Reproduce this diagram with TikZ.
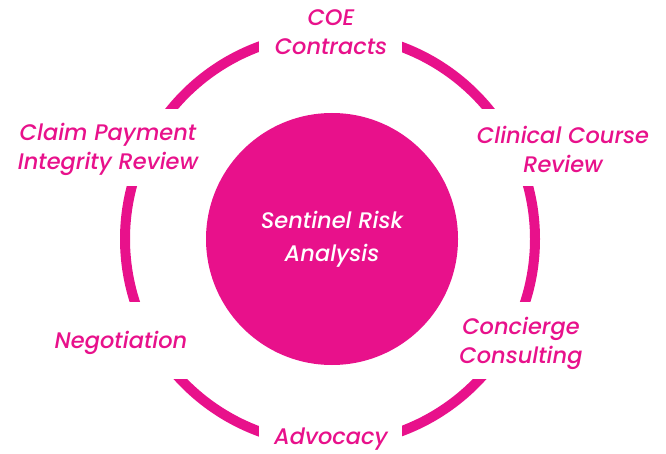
\documentclass[tikz,border=0pt]{standalone}
\usepackage{fontspec}
\setmainfont{Poppins}[ItalicFont={Poppins Medium Italic}]
\usetikzlibrary{positioning}
\definecolor{sentpink}{HTML}{E8118B}

\begin{document}
\begin{tikzpicture}[x=1pt,y=-1pt,
	ring/.style={draw=sentpink,line width=10pt},
	gap/.style={fill=white},
	hub/.style={circle,fill=sentpink,minimum size=252pt,inner sep=0pt,
		text=white,align=center,font=\fontsize{22.5}{33}\selectfont\itshape},
	item/.style={text=sentpink,align=center,inner sep=0pt,
		font=\fontsize{22.5}{29}\selectfont\itshape}]
\useasboundingbox (0,0) rectangle (666,454);
%outer ring
\coordinate (c) at (330,239);
\draw[ring] (c) circle (205);
%outer ring - gaps
\fill[gap] (259,0) rectangle (402,120);		%top
\fill[gap] (0,109) rectangle (250,186);		%upper left
\fill[gap] (410,109) rectangle (666,186);	%upper right
\fill[gap] (0,302) rectangle (250,379);		%lower left
\fill[gap] (410,302) rectangle (666,379);	%lower right
\fill[gap] (259,360) rectangle (402,454);	%bottom
%hub
\node[hub] (hub) at (332,239) {Sentinel Risk\\Analysis};
%labels
\node[item] (coe) at (331,32) {COE\\Contracts};
\node[item] (claim) at (108,149) {Claim Payment\\Integrity Review};
\node[item] (clinical) at (563,149) {Clinical Course\\Review};
\node[item] (negot) at (121,343) {Negotiation};
\node[item] (concierge) at (521,343) {Concierge\\Consulting};
\node[item] (advocacy) at (331,439) {Advocacy};
\end{tikzpicture}
\end{document}
